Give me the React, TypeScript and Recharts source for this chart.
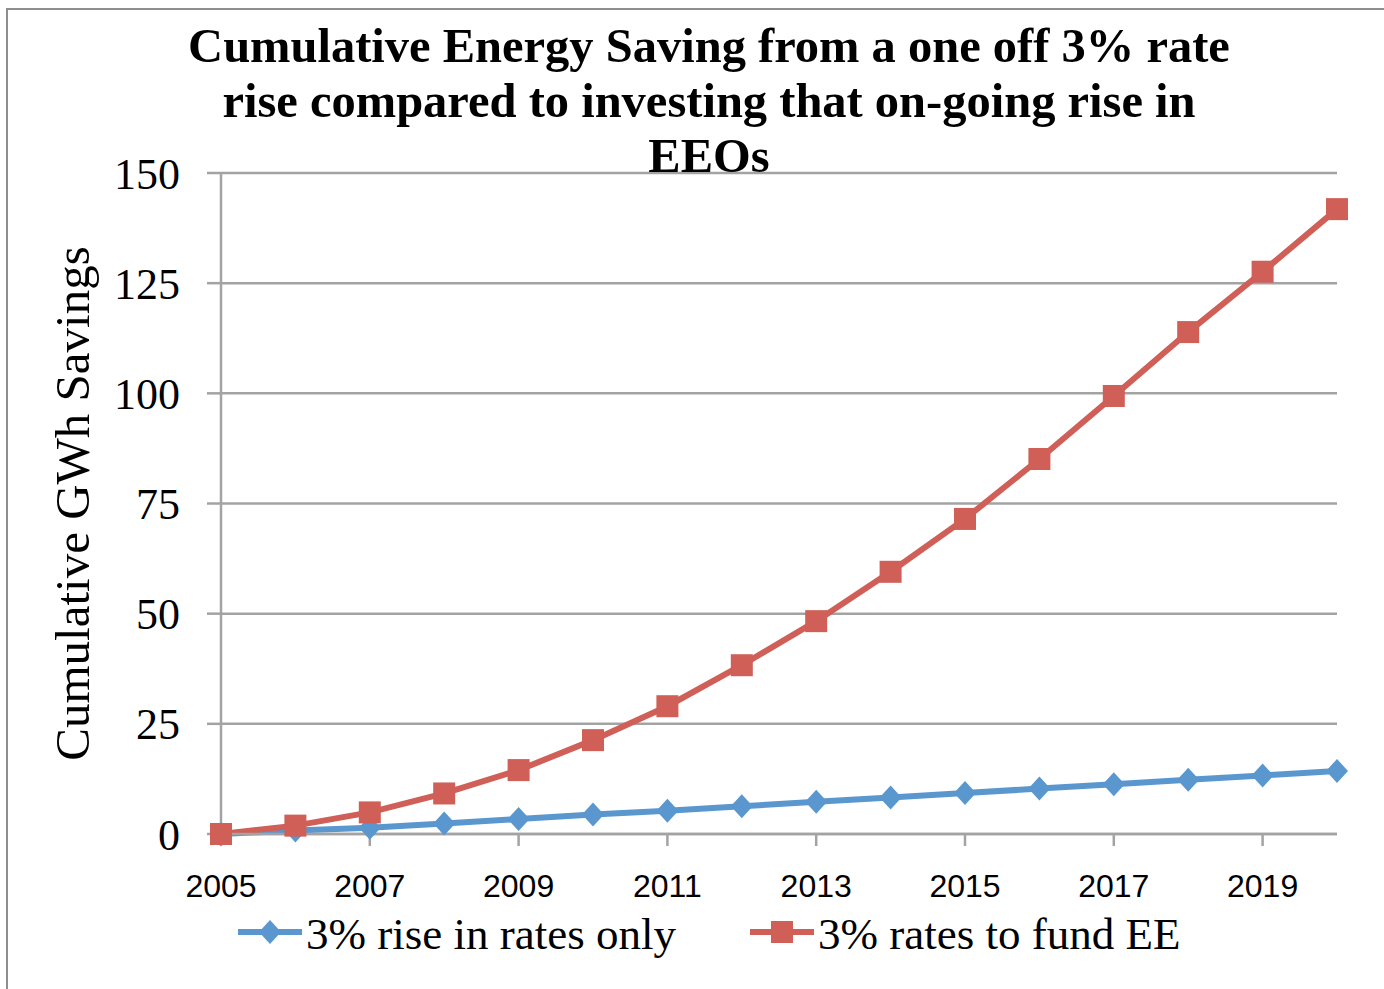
import React from 'react';
import { LineChart, Line, XAxis, YAxis, CartesianGrid, Legend, Label } from 'recharts';

const years = [2005, 2006, 2007, 2008, 2009, 2010, 2011, 2012, 2013, 2014, 2015, 2016, 2017, 2018, 2019, 2020];
const ratesOnly = [0, 0.8, 1.4, 2.4, 3.4, 4.4, 5.3, 6.3, 7.3, 8.3, 9.3, 10.3, 11.3, 12.3, 13.3, 14.3];
const fundEE = [0, 1.9, 4.9, 9.2, 14.5, 21.3, 29.0, 38.3, 48.3, 59.5, 71.5, 85.1, 99.4, 113.9, 127.6, 141.8];
const xTicks = [2005, 2007, 2009, 2011, 2013, 2015, 2017, 2019];
const yTicks = [0, 25, 50, 75, 100, 125, 150];
const titleLines = [
  'Cumulative Energy Saving from a one off 3% rate',
  'rise compared to investing that on-going rise in',
  'EEOs',
];
const seriesNames = ['3% rise in rates only', '3% rates to fund EE'];
const yAxisTitle = 'Cumulative GWh Savings';

const BLUE = '#5A97CF';
const RED = '#CF5F57';
const GRID = '#a3a3a3';

const data = years.map((y, i) => ({ year: y, ratesOnly: ratesOnly[i], fundEE: fundEE[i] }));

const Square = (props: any) => {
  const { cx, cy, index } = props;
  if (cx == null || cy == null) return <g key={`s-${index}`} />;
  return <rect key={`s-${index}`} x={cx - 11} y={cy - 11} width={22} height={22} fill={RED} />;
};

const Diamond = (props: any) => {
  const { cx, cy, index } = props;
  if (cx == null || cy == null) return <g key={`d-${index}`} />;
  return (
    <polygon
      key={`d-${index}`}
      points={`${cx},${cy - 12} ${cx + 11},${cy} ${cx},${cy + 12} ${cx - 11},${cy}`}
      fill={BLUE}
    />
  );
};

const legendLeft = [238, 750];

const renderLegend = () => (
  <div style={{ position: 'relative', width: 1384, height: 60 }}>
    {seriesNames.map((name, i) => (
      <div key={name} style={{ position: 'absolute', left: legendLeft[i], top: 0, height: 60 }}>
        <svg width={64} height={30} style={{ position: 'absolute', left: 0, top: 12 }}>
          <line x1={0} y1={15} x2={64} y2={15} stroke={i === 0 ? BLUE : RED} strokeWidth={6} />
          {i === 0 ? (
            <polygon points="32,3 43,15 32,27 21,15" fill={BLUE} />
          ) : (
            <rect x={21} y={4} width={22} height={22} fill={RED} />
          )}
        </svg>
        <div
          style={{
            position: 'absolute',
            left: 68,
            top: 7,
            whiteSpace: 'nowrap',
            fontFamily: '"Liberation Serif", serif',
            fontSize: 45,
            lineHeight: '45px',
            color: '#000',
          }}
        >
          {name}
        </div>
      </div>
    ))}
  </div>
);

export default function App() {
  return (
    <div style={{ position: 'fixed', left: 0, top: 0, width: 1384, height: 989, overflow: 'hidden', background: '#fff' }}>
      <div
        style={{
          position: 'absolute',
          left: 6,
          top: 8,
          width: 1378,
          height: 981,
          borderLeft: '2.5px solid #8f8f8f',
          borderTop: '2.5px solid #8f8f8f',
          boxSizing: 'border-box',
        }}
      />
      <div style={{ position: 'absolute', left: 0, top: 0 }}>
        <LineChart width={1384} height={989} data={data} margin={{ top: 173, right: 47, bottom: 95, left: 0 }}>
          <CartesianGrid vertical={false} stroke={GRID} strokeWidth={2.5} />
          <XAxis
            dataKey="year"
            type="number"
            domain={[2005, 2020]}
            ticks={xTicks}
            interval={0}
            height={60}
            tickSize={12}
            tickMargin={28}
            axisLine={{ stroke: GRID, strokeWidth: 2.5 }}
            tickLine={{ stroke: GRID, strokeWidth: 2.5 }}
            tick={{ fontFamily: '"Liberation Sans", sans-serif', fontSize: 32, fill: '#000' }}
          />
          <YAxis
            type="number"
            domain={[0, 150]}
            ticks={yTicks}
            interval={0}
            width={221}
            tickSize={14}
            tickMargin={27}
            axisLine={{ stroke: GRID, strokeWidth: 2.5 }}
            tickLine={{ stroke: GRID, strokeWidth: 2.5 }}
            tick={{ fontFamily: '"Liberation Serif", serif', fontSize: 44, fill: '#000' }}
          >
            <Label
              value={yAxisTitle}
              angle={-90}
              position="insideLeft"
              offset={72}
              style={{ textAnchor: 'middle', fontFamily: '"Liberation Serif", serif', fontSize: 49, fill: '#000' }}
            />
          </YAxis>
          <Legend
            verticalAlign="middle"
            layout="horizontal"
            content={renderLegend}
            wrapperStyle={{ top: 905, left: 0, width: 1384, height: 60 }}
          />
          <Line
            dataKey="ratesOnly"
            name={seriesNames[0]}
            stroke={BLUE}
            strokeWidth={6}
            dot={Diamond}
            activeDot={false}
            isAnimationActive={false}
          />
          <Line
            dataKey="fundEE"
            name={seriesNames[1]}
            stroke={RED}
            strokeWidth={6}
            dot={Square}
            activeDot={false}
            isAnimationActive={false}
          />
        </LineChart>
      </div>
      <div
        style={{
          position: 'absolute',
          left: 0,
          top: 18,
          width: 1418,
          textAlign: 'center',
          fontFamily: '"Liberation Serif", serif',
          fontWeight: 'bold',
          fontSize: 48.5,
          lineHeight: '55px',
          color: '#000',
          pointerEvents: 'none',
        }}
      >
        {titleLines.map((l) => (
          <div key={l} style={{ whiteSpace: 'nowrap' }}>{l}</div>
        ))}
      </div>
    </div>
  );
}
